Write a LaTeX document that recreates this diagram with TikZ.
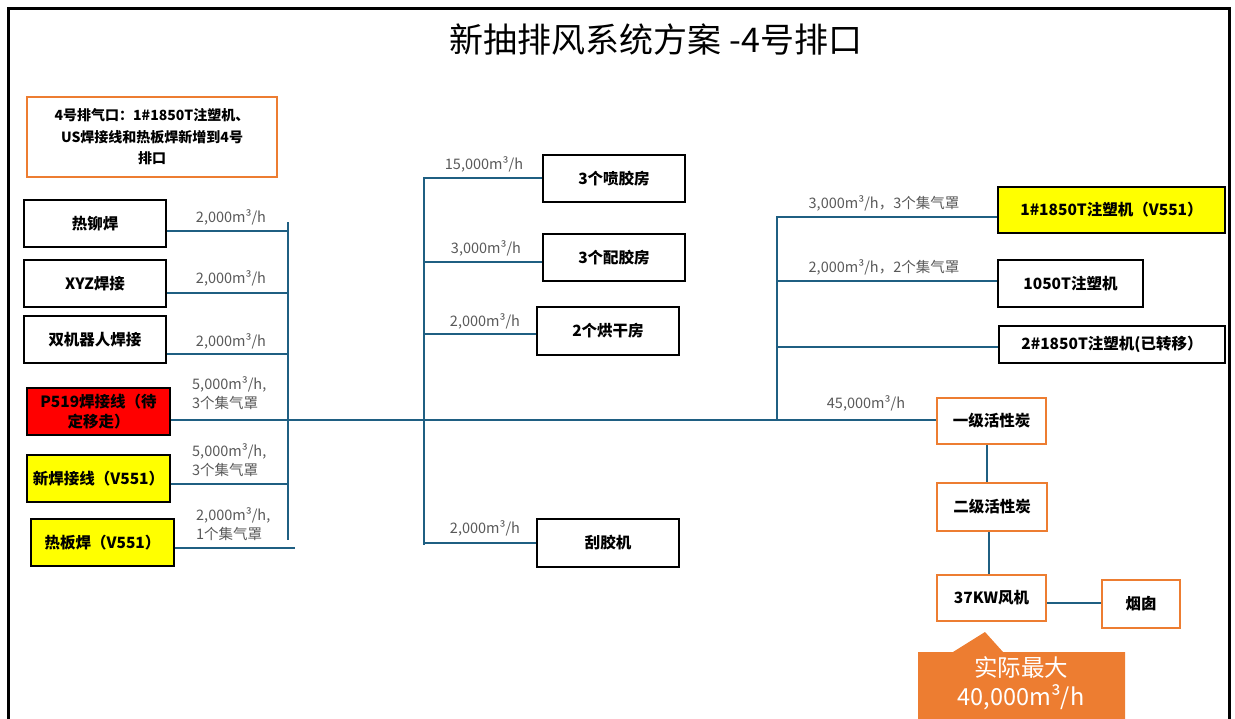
\documentclass[tikz,border=0pt]{standalone}
\usepackage{fontspec}
\setmainfont{Noto Sans CJK SC}
\definecolor{orbox}{RGB}{237,125,49}
\definecolor{pipec}{RGB}{31,95,130}
\definecolor{lblc}{RGB}{89,89,89}
\definecolor{yel}{RGB}{255,255,0}
\definecolor{redf}{RGB}{255,0,0}
\begin{document}
\begin{tikzpicture}[x=1pt,y=-1pt,
  bbox/.style={draw=black, line width=1.8pt, inner sep=0pt, align=center, font=\fontsize{15.5}{20}\selectfont\bfseries},
  obox/.style={draw=orbox, line width=1.8pt, fill=white, inner sep=0pt, align=center, font=\fontsize{15.5}{20}\selectfont\bfseries},
  pipe/.style={draw=pipec, line width=1.8pt},
  lbl/.style={text=lblc, inner sep=0pt, font=\fontsize{14.5}{19}\selectfont},
]
\useasboundingbox (0,0) rectangle (1235,718);
\draw[line width=3pt] (8,722) -- (8,8) -- (1229,8) -- (1229,722);

\node[font=\fontsize{34}{38}\selectfont] (title) at (656,40) {新抽排风系统方案 -4号排口};

\node[obox, minimum width=250pt, minimum height=80pt, font=\fontsize{14}{21.5}\selectfont\bfseries] (note) at (152,137)
  {4号排气口：1\#1850T注塑机、\\US焊接线和热板焊新增到4号\\排口};

% left boxes
\node[bbox, minimum width=142pt, minimum height=47pt] (n1) at (95,223.5) {热铆焊};
\node[bbox, minimum width=142pt, minimum height=47pt] (n2) at (95,283.5) {XYZ焊接};
\node[bbox, minimum width=142pt, minimum height=47pt] (n3) at (95,339.5) {双机器人焊接};
\node[bbox, fill=redf, minimum width=143pt, minimum height=47pt] (n4) at (98.5,411.5) {P519焊接线（待\\定移走）};
\node[bbox, fill=yel, minimum width=143pt, minimum height=47pt] (n5) at (98.5,478.5) {新焊接线（V551）};
\node[bbox, fill=yel, minimum width=143pt, minimum height=47pt] (n6) at (102.5,542.5) {热板焊（V551）};

% middle boxes
\node[bbox, minimum width=142pt, minimum height=47pt] (m1) at (614,178.5) {3个喷胶房};
\node[bbox, minimum width=142pt, minimum height=47pt] (m2) at (614,257.5) {3个配胶房};
\node[bbox, minimum width=142pt, minimum height=48pt] (m3) at (608,331) {2个烘干房};
\node[bbox, minimum width=142pt, minimum height=48pt] (m4) at (608,543) {刮胶机};

% right boxes
\node[bbox, fill=yel, minimum width=227pt, minimum height=46pt] (r1) at (1111.5,210) {1\#1850T注塑机（V551）};
\node[bbox, minimum width=145pt, minimum height=47pt] (r2) at (1070.5,283.5) {1050T注塑机};
\node[bbox, minimum width=226pt, minimum height=37pt] (r3) at (1112,344.5) {2\#1850T注塑机(已转移）};

% treatment chain
\node[obox, minimum width=109pt, minimum height=46pt] (c1) at (991.5,421) {一级活性炭};
\node[obox, minimum width=110pt, minimum height=48pt] (c2) at (992,507) {二级活性炭};
\node[obox, minimum width=109pt, minimum height=46pt] (c3) at (991.5,598) {37KW风机};
\node[obox, minimum width=78pt, minimum height=48pt] (c4) at (1141,604) {烟囱};

% buses
\coordinate (LT) at (288,222);
\coordinate (LB) at (288,540);
\coordinate (LE) at (295,548);
\coordinate (MT) at (424,177);
\coordinate (MB) at (424,545);
\coordinate (RT) at (777,216);
\coordinate (RB) at (777,421);

\draw[pipe] (LT) -- (LB);
\draw[pipe] (n1.east |- 0,231) -- (LT |- 0,231);
\draw[pipe] (n2.east |- 0,293) -- (LT |- 0,293);
\draw[pipe] (n3.east |- 0,354) -- (LT |- 0,354);
\draw[pipe] (n4.east |- 0,420) -- (c1.west |- 0,420);
\draw[pipe] (n5.east |- 0,484) -- (LT |- 0,484);
\draw[pipe] (n6.east |- LE) -- (LE);

\draw[pipe] (MT) -- (MB);
\draw[pipe] (MT |- 0,178) -- (m1.west |- 0,178);
\draw[pipe] (MT |- 0,262) -- (m2.west |- 0,262);
\draw[pipe] (MT |- 0,334) -- (m3.west |- 0,334);
\draw[pipe] (MT |- 0,543) -- (m4.west |- 0,543);

\draw[pipe] (RT) -- (RB);
\draw[pipe] (RT |- 0,217) -- (r1.west |- 0,217);
\draw[pipe] (RT |- 0,281) -- (r2.west |- 0,281);
\draw[pipe] (RT |- 0,347) -- (r3.west |- 0,347);

\draw[pipe] (987,0 |- c1.south) -- (987,0 |- c2.north);
\draw[pipe] (989,0 |- c2.south) -- (989,0 |- c3.north);
\draw[pipe] (c3.east |- 0,603) -- (c4.west |- 0,603);

% labels
\node[lbl] (l1) at (231,217) {2,000m³/h};
\node[lbl] (l2) at (231,278) {2,000m³/h};
\node[lbl] (l3) at (231,341) {2,000m³/h};
\node[lbl, anchor=west, align=left] (l4) at (192,393.5) {5,000m³/h,\\3个集气罩};
\node[lbl, anchor=west, align=left] (l5) at (192,460) {5,000m³/h,\\3个集气罩};
\node[lbl, anchor=west, align=left] (l6) at (196,524) {2,000m³/h,\\1个集气罩};

\node[lbl] (l7) at (484,164) {15,000m³/h};
\node[lbl] (l8) at (486,248) {3,000m³/h};
\node[lbl] (l9) at (485,321) {2,000m³/h};
\node[lbl] (l10) at (485,528) {2,000m³/h};

\node[lbl] (l11) at (884,203) {3,000m³/h，3个集气罩};
\node[lbl] (l12) at (884,267) {2,000m³/h，2个集气罩};
\node[lbl] (l13) at (866,403) {45,000m³/h};

% callout
\fill[orbox] (918,652) -- (953,652) -- (985,632) -- (1003,652) -- (1125,652) -- (1125,722) -- (918,722) -- cycle;
\node[text=white, align=center, inner sep=0pt, font=\fontsize{23.5}{29}\selectfont] (cal) at (1021,683) {实际最大\\40,000m³/h};
\end{tikzpicture}
\end{document}
